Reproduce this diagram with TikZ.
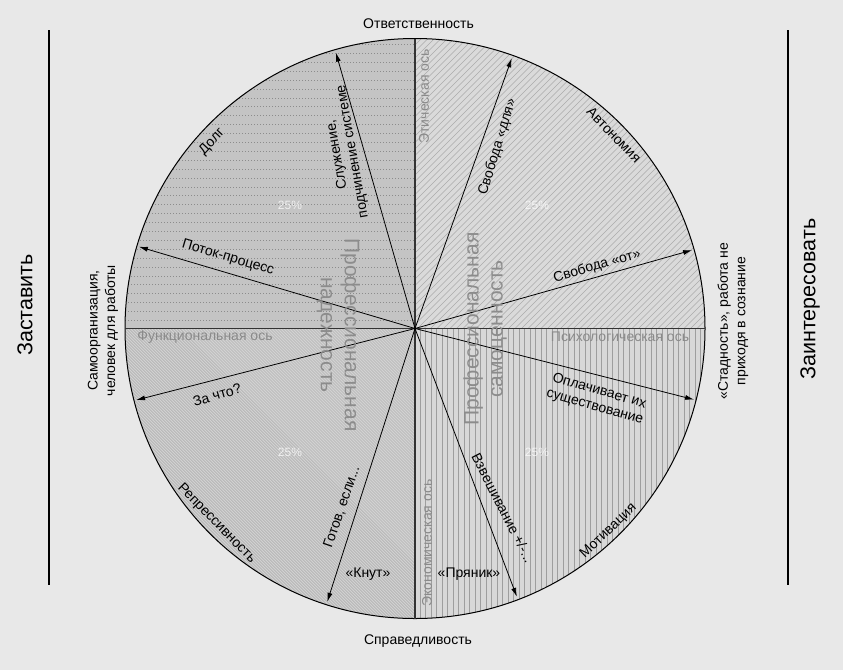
\documentclass[tikz,border=0pt]{standalone}
\usepackage{fontspec}
\setmainfont{Liberation Sans}
\usetikzlibrary{arrows.meta,calc}
\definecolor{bgc}{HTML}{E8E8E8}
\definecolor{tlc}{HTML}{C4C4C4}
\definecolor{trc}{HTML}{DADADA}
\definecolor{blc}{HTML}{D2D2D2}
\definecolor{brc}{HTML}{D8D8D8}
\definecolor{axg}{HTML}{8A8A8A}
\definecolor{bigg}{HTML}{8C8C8C}
\begin{document}
\begin{tikzpicture}[x=1pt,y=-1pt,
  lbl/.style={font=\fontsize{14}{16}\selectfont, inner sep=0pt, align=center},
  axlbl/.style={font=\fontsize{14}{16}\selectfont, inner sep=0pt, text=axg},
  big/.style={font=\fontsize{21}{24}\selectfont, inner sep=0pt, text=bigg, align=center},
  side/.style={font=\fontsize{21.5}{24}\selectfont, inner sep=0pt},
  small/.style={font=\fontsize{14}{17.5}\selectfont, inner sep=0pt, align=center},
  pct/.style={font=\fontsize{12}{14}\selectfont, inner sep=0pt, text=white, opacity=0.75},
  arr/.style={-{Latex[length=9pt,width=5pt]}, line width=0.8pt},
  axisline/.style={line width=1.8pt, draw=black!80},
  sideline/.style={line width=1.2pt},
]
\useasboundingbox[fill=bgc] (0,0) rectangle (843,670);
\coordinate (C) at (415,328.5);
\coordinate (T) at (415,38.5);
\coordinate (B) at (415,618.5);
\coordinate (L) at (125,328.5);
\coordinate (R) at (705,328.5);
% quadrants
\begin{scope}
  \clip (C) circle[radius=290pt];
  \fill[tlc] (125,38) rectangle (415,328.5);
  \fill[trc] (415,38) rectangle (705,328.5);
  \fill[blc] (125,328.5) rectangle (415,619);
  \fill[brc] (415,328.5) rectangle (705,619);
  \begin{scope}
    \clip (125,328.5) rectangle (415,619);
    \foreach \xx in {-165,-162,...,415} \draw[line width=0.7pt, draw=black!30] (\xx,328.5) -- ++(290,290);
  \end{scope}
  \begin{scope}
    \clip (415,38) rectangle (705,328.5);
    \foreach \xx in {125,131.5,...,705} \draw[line width=0.6pt, draw=black!33] (\xx,328.5) -- ++(290,-290);
  \end{scope}
  \foreach \yy in {44.5,53.4,...,326} \draw[line width=0.8pt, draw=black!45, dash pattern=on 0.8pt off 2.2pt] (125,\yy) -- (415,\yy);
  \foreach \xx in {420,425.5,...,705} \draw[line width=0.6pt, draw=black!38] (\xx,328.5) -- (\xx,619);
\end{scope}
\draw[line width=1pt] (C) circle[radius=290pt];
\draw[axisline] (T) -- (B);
\draw[axisline] (L) -- (R);
% arrows
\coordinate (a1) at ($(C)+(106:287pt)$);
\coordinate (a2) at ($(C)+(70.3:287pt)$);
\coordinate (a3) at ($(C)+(163.5:288pt)$);
\coordinate (a4) at ($(C)+(194.4:288pt)$);
\coordinate (a5) at ($(C)+(15.8:288pt)$);
\coordinate (a6) at ($(C)+(-14.3:288pt)$);
\coordinate (a7) at ($(C)+(252.2:287pt)$);
\coordinate (a8) at ($(C)+(-69.2:287pt)$);
\foreach \t in {a1,a2,a3,a4,a5,a6,a7,a8} \draw[arr] (C) -- (\t);
% big texts
\node[big, rotate=-90] (nad) at (338.5,335) {Профессиональная\\надежность};
\node[big, rotate=90] (samo) at (485,329) {Профессиональная\\самоценность};
% percent
\node[pct] (p1) at (290,205) {25\%};
\node[pct] (p2) at (537,205) {25\%};
\node[pct] (p3) at (290,452) {25\%};
\node[pct] (p4) at (537,452) {25\%};
% axis labels
\node[axlbl, rotate=90] (eth) at (424,96.5) {Этическая ось};
\node[axlbl] (func) at (205,337) {Функциональная ось};
\node[axlbl] (psy) at (620,337) {Психологическая ось};
\node[axlbl, rotate=90] (econ) at (427,543) {Экономическая ось};
% arrow labels
\node[lbl, rotate=100] (sluz) at (345,153) {Служение,\\подчинение системе};
\node[lbl, rotate=73] (svdl) at (497.5,147) {Свобода «для»};
\node[lbl, rotate=-16.4] (potok) at (228,258) {Поток-процесс};
\node[lbl, rotate=16] (zachto) at (217,395) {За что?};
\node[lbl, rotate=16] (svot) at (597,266) {Свобода «от»};
\node[lbl, rotate=-16] (opl) at (597,399) {Оплачивает их\\существование};
\node[lbl, rotate=71] (gotov) at (342,507) {Готов, если...};
\node[lbl, rotate=-63] (vzv) at (503,508) {Взвешивание +/-...};
\node[lbl] (knut) at (368,574) {«Кнут»};
\node[lbl] (pryan) at (469,574) {«Пряник»};
% arc labels
\node[lbl, rotate=47] (dolg) at (212,142) {Долг};
\node[lbl, rotate=-45.8] (avt) at (614,135) {Автономия};
\node[lbl, rotate=-45.5] (repr) at (216.5,523.5) {Репрессивность};
\node[lbl, rotate=43.7] (motiv) at (608.5,531) {Мотивация};
% outside
\node[lbl] (otv) at (418.5,24) {Ответственность};
\node[lbl] (spr) at (418,641) {Справедливость};
\node[side, rotate=90] (zast) at (25,305) {Заставить};
\node[side, rotate=90] (zaint) at (810,299) {Заинтересовать};
\node[small, rotate=90] (samoorg) at (103,330.5) {Самоорганизация,\\человек для работы};
\node[small, rotate=90] (stad) at (733,321) {«Стадность», работа не\\приходя в сознание};
\coordinate (l1) at (49,30);
\coordinate (l2) at (49,585);
\coordinate (r1) at (788,30);
\coordinate (r2) at (788,585);
\draw[sideline] (l1) -- (l2);
\draw[sideline] (r1) -- (r2);
\end{tikzpicture}
\end{document}
